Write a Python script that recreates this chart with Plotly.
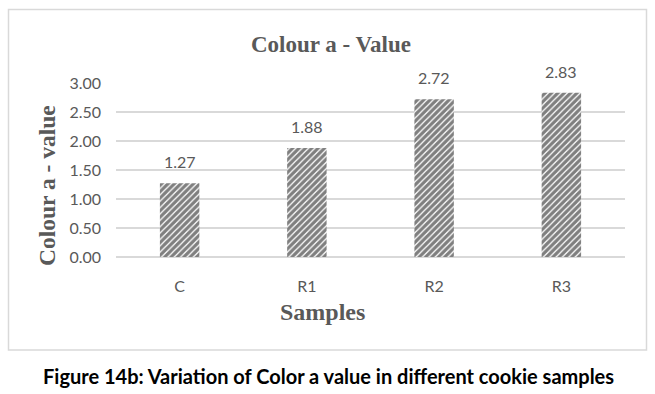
import plotly.graph_objects as go

categories = ["C", "R1", "R2", "R3"]
values = [1.27, 1.88, 2.72, 2.83]
y_ticks = [0, 0.5, 1.0, 1.5, 2.0, 2.5, 3.0]
y_tick_labels = ["0.00", "0.50", "1.00", "1.50", "2.00", "2.50", "3.00"]

chart_title = "Colour a - Value"
x_title = "Samples"
y_title = "Colour a - value"
caption = "Figure 14b: Variation of Color a value in different cookie samples"

W, H = 655, 394
L, R, T, B = 116, 30, 83, 137
pw, ph = W - L - R, H - T - B


def px_x(x):
    return (x - L) / pw


def px_y(y):
    return (H - B - y) / ph


grey = "#595959"

fig = go.Figure()
fig.add_trace(go.Bar(
    x=categories, y=values, width=0.31,
    marker=dict(color="white", line=dict(width=0),
                pattern=dict(shape="/", fgcolor="black", bgcolor="white",
                             size=4.5, solidity=0.72)),
    showlegend=False, hoverinfo="skip",
))

annotations = []
for c, v in zip(categories, values):
    annotations.append(dict(x=c, y=v, xref="x", yref="y", text=f"{v:.2f}",
                            showarrow=False, yanchor="bottom", yshift=10,
                            font=dict(family="Lato", size=16, color=grey)))

annotations += [
    dict(x=px_x(331), y=px_y(45), xref="paper", yref="paper", text=f"<b>{chart_title}</b>",
         showarrow=False, xanchor="center", yanchor="middle",
         font=dict(family="Liberation Serif", size=23, color=grey)),
    dict(x=px_x(322), y=px_y(312), xref="paper", yref="paper", text=f"<b>{x_title}</b>",
         showarrow=False, xanchor="center", yanchor="middle",
         font=dict(family="Liberation Serif", size=24, color=grey)),
    dict(x=px_x(47), y=px_y(186), xref="paper", yref="paper", text=f"<b>{y_title}</b>",
         showarrow=False, xanchor="center", yanchor="middle", textangle=-90,
         font=dict(family="Liberation Serif", size=23.5, color=grey)),
    dict(x=px_x(328), y=px_y(376), xref="paper", yref="paper", text=f"<b>{caption}</b>",
         showarrow=False, xanchor="center", yanchor="middle",
         font=dict(family="Lato", size=20, color="black")),
]

fig.update_layout(
    width=W, height=H,
    margin=dict(l=L, r=R, t=T, b=B, pad=0),
    paper_bgcolor="white", plot_bgcolor="white",
    annotations=annotations,
    shapes=[dict(type="rect", xref="paper", yref="paper",
                 x0=px_x(8.5), x1=px_x(646.5), y0=px_y(350), y1=px_y(9.5),
                 line=dict(color="#d9d9d9", width=1.5), fillcolor="rgba(0,0,0,0)",
                 layer="below")],
    xaxis=dict(showgrid=False, showline=False, zeroline=False, ticks="",
               ticklabelstandoff=18,
               tickfont=dict(family="Lato", size=16, color=grey)),
    yaxis=dict(range=[0, 3.0], tickvals=y_ticks, ticktext=y_tick_labels,
               showgrid=True, gridcolor="#d9d9d9", gridwidth=1.5,
               zeroline=True, zerolinecolor="#d9d9d9", zerolinewidth=1.5,
               showline=False, ticks="", ticklabelstandoff=14,
               tickfont=dict(family="Lato", size=16, color=grey)),
)

fig.write_html("out.html", config={"displayModeBar": False},
               post_script="document.body.style.margin='0';document.body.style.padding='0';")
